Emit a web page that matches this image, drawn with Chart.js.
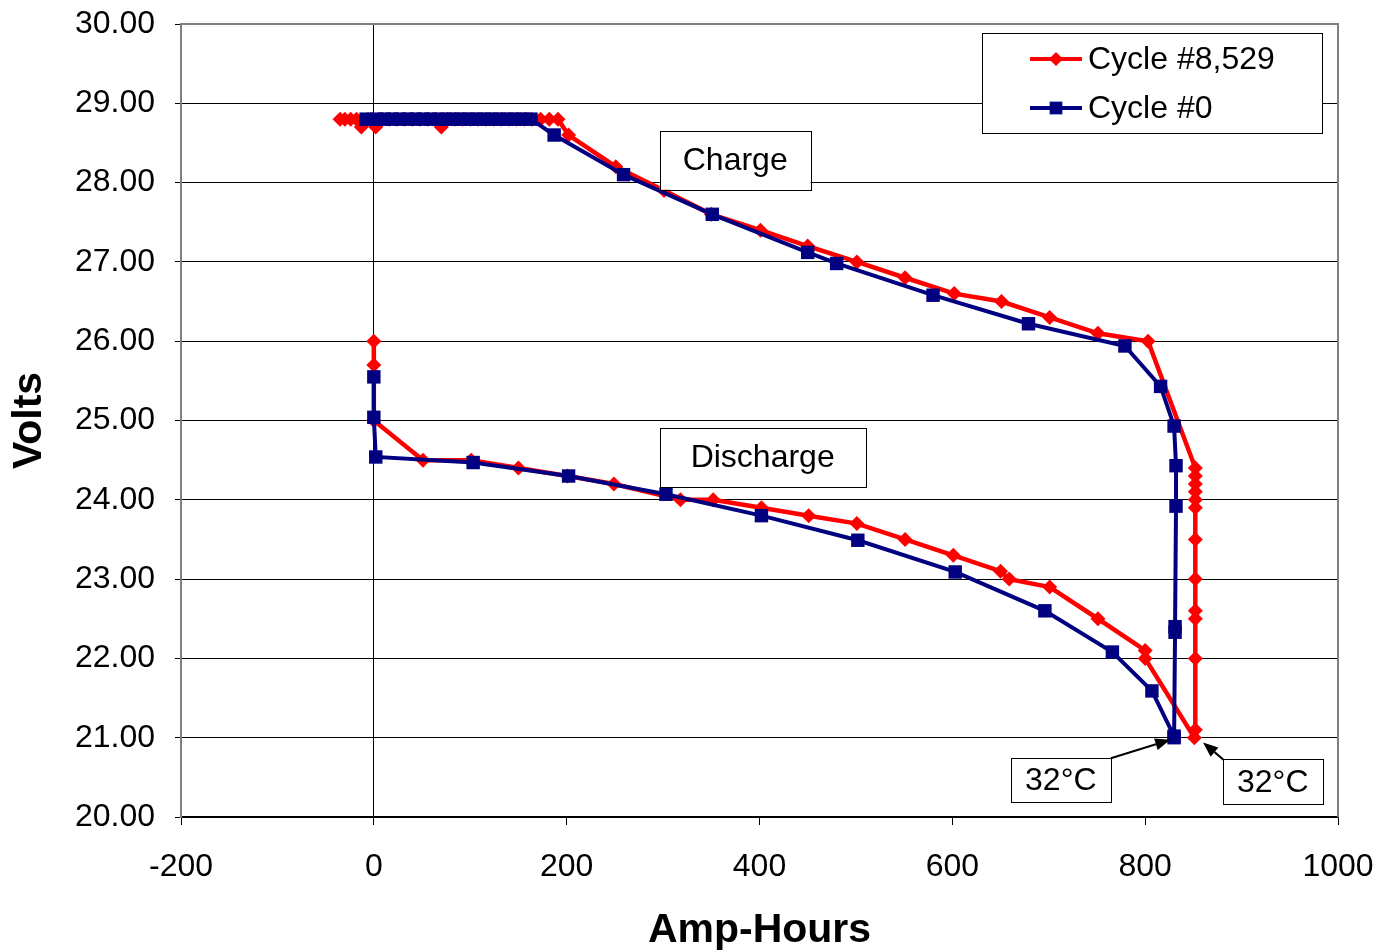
<!DOCTYPE html>
<html>
<head>
<meta charset="utf-8">
<script src="https://cdn.jsdelivr.net/npm/chart.js@4.4.1/dist/chart.umd.min.js"></script>
<style>
html,body{margin:0;padding:0;background:#fff;}
#wrap{width:1380px;height:951px;}
</style>
</head>
<body>
<div id="wrap"><canvas id="c" width="1380" height="951"></canvas></div>
<script>
// ---- data ----
const xTickValues = [-200, 0, 200, 400, 600, 800, 1000];
const yTickValues = [20, 21, 22, 23, 24, 25, 26, 27, 28, 29, 30];

const seriesNames = ['Cycle #8,529', 'Cycle #0'];

// Cycle #8,529 (red)
const redDischargeAh = [0, 0, 0, 51, 101, 150, 201, 249, 318, 352, 402, 451, 501, 551, 601, 650, 659, 701, 751, 800, 800, 851];
const redDischargeV  = [26.0, 25.7, 25.0, 24.5, 24.5, 24.4, 24.3, 24.2, 24.0, 24.0, 23.9, 23.8, 23.7, 23.5, 23.3, 23.1, 23.0, 22.9, 22.5, 22.1, 22.0, 21.0];
const redChargeAh = [852, 852, 852, 852, 852, 852, 852, 852, 852, 852, 852, 852, 803, 751, 701, 651, 602, 551, 501, 450, 401, 350, 301, 251, 202,
  191, 182, 173, 164, 156, 148, 140, 132, 124, 116, 108, 100, 92, 84, 76, 70, 64, 56, 48, 40, 32, 24, 16, 8, 2, -6, -13, -18, -24, -30, -35];
const redChargeV  = [21.1, 22.0, 22.5, 22.6, 23.0, 23.5, 23.9, 24.0, 24.1, 24.2, 24.3, 24.4, 26.0, 26.1, 26.3, 26.5, 26.6, 26.8, 27.0, 27.2, 27.4, 27.6, 27.9, 28.2, 28.6,
  28.8, 28.8, 28.8, 28.8, 28.8, 28.8, 28.8, 28.8, 28.8, 28.8, 28.8, 28.8, 28.8, 28.8, 28.8, 28.7, 28.8, 28.8, 28.8, 28.8, 28.8, 28.8, 28.8, 28.8, 28.7, 28.8, 28.7, 28.8, 28.8, 28.8, 28.8];

// Cycle #0 (blue)
const blueDischargeAh = [0, 0, 2, 103, 202, 303, 402, 502, 603, 696, 766, 807, 830];
const blueDischargeV  = [25.55, 25.04, 24.54, 24.47, 24.3, 24.07, 23.8, 23.49, 23.09, 22.6, 22.08, 21.59, 21.02];
const blueChargeAh = [830, 831, 831, 832, 832, 830, 816, 779, 679, 580, 480, 450, 351, 259, 187,
  163, 155, 147, 139, 131, 123, 115, 107, 99, 91, 83, 75, 67, 59, 51, 43, 35, 27, 19, 11, 3, -8];
const blueChargeV  = [21.0, 22.33, 22.4, 23.92, 24.43, 24.93, 25.43, 25.94, 26.22, 26.58, 26.98, 27.12, 27.6, 28.1, 28.6,
  28.8, 28.8, 28.8, 28.8, 28.8, 28.8, 28.8, 28.8, 28.8, 28.8, 28.8, 28.8, 28.8, 28.8, 28.8, 28.8, 28.8, 28.8, 28.8, 28.8, 28.8, 28.8];

const annotationTexts = ['Charge', 'Discharge', '32°C', '32°C'];

// ---- build ----
function pts(ax, vs) { return ax.map((a, i) => ({x: a, y: vs[i]})); }
const redPts = pts(redDischargeAh, redDischargeV).concat(pts(redChargeAh, redChargeV));
const bluePts = pts(blueDischargeAh, blueDischargeV).concat(pts(blueChargeAh, blueChargeV));

const FONT = "'Liberation Sans', Arial, Helvetica, sans-serif";
const RED = '#ff0000';
const BLUE = '#000080';

function drawBox(ctx, x1, y1, x2, y2, text) {
  ctx.save();
  ctx.fillStyle = '#fff';
  ctx.fillRect(x1, y1, x2 - x1, y2 - y1);
  ctx.strokeStyle = '#000';
  ctx.lineWidth = 1;
  ctx.strokeRect(Math.round(x1) + 0.5, Math.round(y1) + 0.5, Math.round(x2 - x1), Math.round(y2 - y1));
  ctx.fillStyle = '#000';
  ctx.font = '32px ' + FONT;
  ctx.textAlign = 'center';
  ctx.textBaseline = 'middle';
  ctx.fillText(text, (x1 + x2) / 2, (y1 + y2) / 2 + 1);
  ctx.restore();
}
function drawArrow(ctx, x1, y1, x2, y2) {
  ctx.save();
  ctx.strokeStyle = '#000';
  ctx.fillStyle = '#000';
  ctx.lineWidth = 2;
  const ang = Math.atan2(y2 - y1, x2 - x1);
  const hl = 15, hw = 6;
  const bx = x2 - Math.cos(ang) * hl, by = y2 - Math.sin(ang) * hl;
  ctx.beginPath();
  ctx.moveTo(x1, y1);
  ctx.lineTo(bx, by);
  ctx.stroke();
  ctx.beginPath();
  ctx.moveTo(x2, y2);
  ctx.lineTo(bx - Math.sin(ang) * hw, by + Math.cos(ang) * hw);
  ctx.lineTo(bx + Math.sin(ang) * hw, by - Math.cos(ang) * hw);
  ctx.closePath();
  ctx.fill();
  ctx.restore();
}

const annot = {
  id: 'annot',
  afterDatasetsDraw(chart) {
    const ctx = chart.ctx;
    const xs = chart.scales.x, ys = chart.scales.y;
    const ca = chart.chartArea;
    const X = v => xs.getPixelForValue(v), Y = v => ys.getPixelForValue(v);
    // plot border (top and right)
    ctx.save();
    ctx.strokeStyle = '#808080';
    ctx.lineWidth = 2;
    ctx.beginPath();
    ctx.moveTo(ca.left, ca.top);
    ctx.lineTo(ca.right, ca.top);
    ctx.lineTo(ca.right, ca.bottom);
    ctx.stroke();
    ctx.restore();
    // text boxes
    drawBox(ctx, X(296.6), Y(28.65), X(453), Y(27.91), annotationTexts[0]);
    drawBox(ctx, X(296.6), Y(24.91), X(510), Y(24.16), annotationTexts[1]);
    drawBox(ctx, X(660.6), Y(20.74), X(764.4), Y(20.18), annotationTexts[2]);
    drawBox(ctx, X(880.5), Y(20.73), X(984.2), Y(20.16), annotationTexts[3]);
    drawArrow(ctx, X(764.4), Y(20.74), X(826), Y(20.975));
    drawArrow(ctx, X(881.5), Y(20.72), X(860), Y(20.94));
    // legend
    const lx1 = ca.left + 801, ly1 = ca.top + 9, lx2 = ca.left + 1141, ly2 = ca.top + 109;
    ctx.save();
    ctx.fillStyle = '#fff';
    ctx.fillRect(lx1, ly1, lx2 - lx1, ly2 - ly1);
    ctx.strokeStyle = '#000';
    ctx.lineWidth = 1;
    ctx.strokeRect(lx1 + 0.5, ly1 + 0.5, lx2 - lx1, ly2 - ly1);
    const rows = [
      {y: ly1 + 26, color: RED, style: 'rectRot', r: 7, name: seriesNames[0]},
      {y: ly1 + 75, color: BLUE, style: 'rect', r: 9, name: seriesNames[1]}
    ];
    rows.forEach(row => {
      ctx.strokeStyle = row.color;
      ctx.lineWidth = 4;
      ctx.beginPath();
      ctx.moveTo(lx1 + 48, row.y);
      ctx.lineTo(lx1 + 100, row.y);
      ctx.stroke();
      ctx.fillStyle = row.color;
      Chart.helpers.drawPoint(ctx, {pointStyle: row.style, radius: row.r, borderWidth: 0, rotation: 0}, lx1 + 74, row.y);
      ctx.fillStyle = '#000';
      ctx.font = '32px ' + FONT;
      ctx.textAlign = 'left';
      ctx.textBaseline = 'middle';
      ctx.fillText(row.name, lx1 + 106, row.y + 1);
    });
    ctx.restore();
  }
};

const tickFont = {family: FONT, size: 32};
new Chart(document.getElementById('c'), {
  type: 'scatter',
  data: {
    datasets: [
      {
        label: seriesNames[0], data: redPts, showLine: true,
        borderColor: RED, backgroundColor: RED, borderWidth: 4.5,
        pointStyle: 'rectRot', pointRadius: 7.5, pointBackgroundColor: RED, pointBorderColor: RED, pointBorderWidth: 0,
        order: 1
      },
      {
        label: seriesNames[1], data: bluePts, showLine: true,
        borderColor: BLUE, backgroundColor: BLUE, borderWidth: 4,
        pointStyle: 'rect', pointRadius: 9.5, pointBackgroundColor: BLUE, pointBorderColor: BLUE, pointBorderWidth: 0,
        order: 0
      }
    ]
  },
  options: {
    responsive: false,
    animation: false,
    devicePixelRatio: 1,
    layout: {padding: {top: 24, right: 42, left: 0, bottom: 0}},
    plugins: {legend: {display: false}, tooltip: {enabled: false}},
    scales: {
      x: {
        type: 'linear', min: -200, max: 1000,
        afterBuildTicks: s => { s.ticks = xTickValues.map(v => ({value: v})); },
        afterFit: s => { s.height = 134; s.paddingLeft = 0; s.paddingRight = 0; },
        ticks: {font: tickFont, color: '#000', padding: 23, maxRotation: 0, autoSkip: false, callback: v => String(v)},
        grid: {
          color: c => (c.tick && c.tick.value === 0) ? '#000' : 'rgba(0,0,0,0)',
          tickColor: '#000', tickLength: 8, lineWidth: 1
        },
        border: {color: '#000', width: 1.5},
        title: {display: true, text: 'Amp-Hours', color: '#000', font: {family: FONT, size: 41, weight: 'bold', lineHeight: 1}, padding: {top: 0, bottom: 0}}
      },
      y: {
        type: 'linear', min: 20, max: 30,
        afterBuildTicks: s => { s.ticks = yTickValues.map(v => ({value: v})); },
        afterFit: s => { s.width = 181; s.paddingTop = 0; s.paddingBottom = 0; },
        ticks: {font: tickFont, color: '#000', padding: 20, autoSkip: false, callback: v => Number(v).toFixed(2)},
        grid: {color: '#000', tickColor: '#000', tickLength: 6, lineWidth: 1},
        border: {color: '#808080', width: 2},
        title: {display: true, text: 'Volts', color: '#000', font: {family: FONT, size: 41, weight: 'bold', lineHeight: 1.2}, padding: {top: 5, bottom: 0}}
      }
    }
  },
  plugins: [annot]
});
</script>
</body>
</html>
